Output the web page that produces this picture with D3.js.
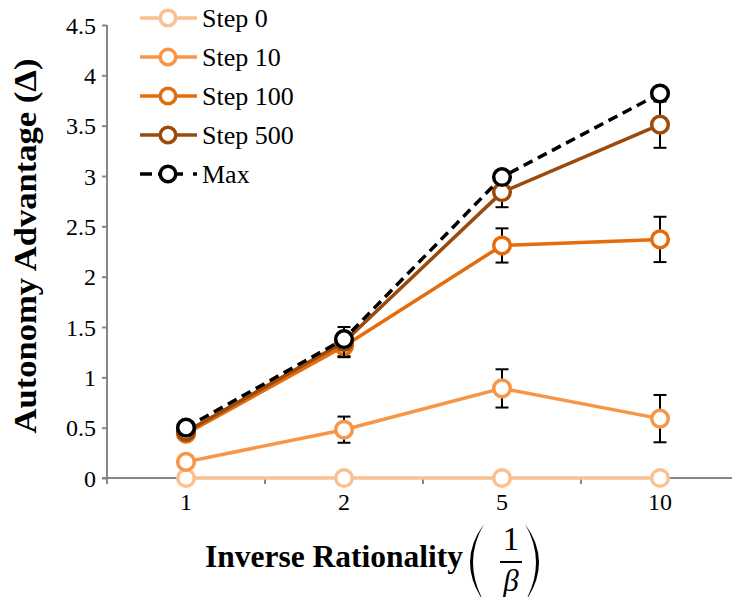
<!DOCTYPE html>
<html>
<head>
<meta charset="utf-8">
<title>Autonomy Advantage</title>
<script src="https://cdnjs.cloudflare.com/ajax/libs/d3/7.8.5/d3.min.js"></script>
<style>
  body { margin: 0; background: #fff; }
  svg { display: block; }
  svg text { font-family: "Liberation Serif", "DejaVu Serif", serif; }
</style>
</head>
<body>
<div id="chart"></div>
<script>
// values
var categories = ["1", "2", "5", "10"];
var step0 = [0, 0, 0, 0];
var step10 = [0.16, 0.48, 0.89, 0.59];
var step10Err = [0, 0.13, 0.19, 0.235];
var step100 = [0.44, 1.31, 2.31, 2.37];
var step100Err = [0, 0.10, 0.17, 0.225];
var step500 = [0.46, 1.35, 2.84, 3.51];
var step500Err = [0, 0.15, 0.15, 0.23];
var maxVals = [0.50, 1.38, 2.99, 3.82];
var yTicks = [0, 0.5, 1, 1.5, 2, 2.5, 3, 3.5, 4, 4.5];

var seriesNames = ["Step 0", "Step 10", "Step 100", "Step 500", "Max"];
var seriesVals = [step0, step10, step100, step500, maxVals];
var seriesErr = [null, step10Err, step100Err, step500Err, null];
var seriesColor = ["#FAC090", "#F79646", "#E46C0A", "#9C4A0B", "#000000"];

var w = 732, h = 597;
var svg = d3.select("#chart").append("svg")
  .attr("width", w)
  .attr("height", h);

var x = d3.scaleBand().domain(categories).range([107, 739]).padding(0);
var y = d3.scaleLinear().domain([0, 4.5]).range([478, 25]);
var cx = function(i) { return x(categories[i]) + x.bandwidth() / 2; };

// y axis
var yAxis = svg.append("g")
  .attr("transform", "translate(" + x.range()[0] + ",0)")
  .call(d3.axisLeft(y).tickValues(yTicks).tickSize(5).tickPadding(6).tickFormat(function(d) { return d; }));
yAxis.attr("font-family", null).attr("font-size", null);
yAxis.select(".domain").remove();
yAxis.selectAll("line").attr("stroke", "#868686").attr("stroke-width", 2);
yAxis.selectAll("text").attr("font-size", 24).attr("fill", "#000").attr("dy", "0.34em");
svg.append("line")
  .attr("x1", x.range()[0]).attr("x2", x.range()[0])
  .attr("y1", y(4.5)).attr("y2", y(0) + 6)
  .attr("stroke", "#868686").attr("stroke-width", 2);

// x axis
svg.append("line")
  .attr("x1", x.range()[0] - 5).attr("x2", w)
  .attr("y1", y(0)).attr("y2", y(0))
  .attr("stroke", "#868686").attr("stroke-width", 2);
svg.selectAll(".xtick")
  .data(categories.slice(1))
  .enter().append("line")
  .attr("class", "xtick")
  .attr("x1", function(d) { return x(d); }).attr("x2", function(d) { return x(d); })
  .attr("y1", y(0)).attr("y2", y(0) + 6)
  .attr("stroke", "#868686").attr("stroke-width", 2);
svg.selectAll(".xlabel")
  .data(categories)
  .enter().append("text")
  .attr("class", "xlabel")
  .attr("x", function(d, i) { return cx(i); })
  .attr("y", y(0) + 32)
  .attr("text-anchor", "middle")
  .attr("font-size", 24)
  .text(function(d) { return d; });

// series: line, error bars, markers
var line = d3.line()
  .x(function(d, i) { return cx(i); })
  .y(function(d) { return y(d); });

seriesVals.forEach(function(vals, s) {
  var g = svg.append("g");
  g.append("path")
    .datum(vals)
    .attr("d", line)
    .attr("fill", "none")
    .attr("stroke", seriesColor[s])
    .attr("stroke-width", 3.5)
    .attr("stroke-dasharray", s == 4 ? "10,6" : null);

  if (seriesErr[s]) {
    var err = seriesErr[s];
    var idx = d3.range(vals.length).filter(function(i) { return err[i] > 0; });
    var eb = g.selectAll(".err").data(idx).enter().append("g")
      .attr("stroke", "#000").attr("stroke-width", 2);
    eb.append("line")
      .attr("x1", function(i) { return cx(i); }).attr("x2", function(i) { return cx(i); })
      .attr("y1", function(i) { return y(vals[i] + err[i]); })
      .attr("y2", function(i) { return y(vals[i] - err[i]); });
    eb.append("line")
      .attr("x1", function(i) { return cx(i) - 6.5; }).attr("x2", function(i) { return cx(i) + 6.5; })
      .attr("y1", function(i) { return y(vals[i] + err[i]); })
      .attr("y2", function(i) { return y(vals[i] + err[i]); });
    eb.append("line")
      .attr("x1", function(i) { return cx(i) - 6.5; }).attr("x2", function(i) { return cx(i) + 6.5; })
      .attr("y1", function(i) { return y(vals[i] - err[i]); })
      .attr("y2", function(i) { return y(vals[i] - err[i]); });
  }

  g.selectAll("circle")
    .data(vals)
    .enter().append("circle")
    .attr("cx", function(d, i) { return cx(i); })
    .attr("cy", function(d) { return y(d); })
    .attr("r", 8.3)
    .attr("fill", "#fff")
    .attr("stroke", seriesColor[s])
    .attr("stroke-width", 3.5);
});

// legend
var legend = svg.append("g");
seriesNames.forEach(function(name, s) {
  var ly = 18 + s * 39;
  var lg = legend.append("g").attr("transform", "translate(0," + ly + ")");
  if (s == 4) {
    lg.append("line").attr("x1", 140).attr("x2", 152).attr("y1", 0).attr("y2", 0)
      .attr("stroke", "#000").attr("stroke-width", 3.5);
    lg.append("line").attr("x1", 158).attr("x2", 183).attr("y1", 0).attr("y2", 0)
      .attr("stroke", "#000").attr("stroke-width", 3.5);
    lg.append("line").attr("x1", 193).attr("x2", 197).attr("y1", 0).attr("y2", 0)
      .attr("stroke", "#000").attr("stroke-width", 3.5);
  } else {
    lg.append("line").attr("x1", 140).attr("x2", 197).attr("y1", 0).attr("y2", 0)
      .attr("stroke", seriesColor[s]).attr("stroke-width", 3.5);
  }
  lg.append("circle").attr("cx", 168).attr("cy", 0).attr("r", 7.8)
    .attr("fill", "#fff").attr("stroke", seriesColor[s]).attr("stroke-width", 3.5);
  lg.append("text").attr("x", 202).attr("y", 8.5)
    .attr("font-size", 26)
    .text(name);
});

// axis titles
svg.append("text")
  .attr("transform", "translate(36,246) rotate(-90)")
  .attr("text-anchor", "middle")
  .attr("font-size", 31)
  .attr("font-weight", "bold")
  .attr("textLength", 375)
  .attr("lengthAdjust", "spacingAndGlyphs")
  .text("Autonomy Advantage (\u0394)");

svg.append("text")
  .attr("x", 205).attr("y", 567)
  .attr("font-size", 31)
  .attr("font-weight", "bold")
  .attr("textLength", 258)
  .attr("lengthAdjust", "spacingAndGlyphs")
  .text("Inverse Rationality");

// the (1/beta) fraction
var fx = 511, fy = 562;
svg.append("text").attr("x", fx).attr("y", 550).attr("text-anchor", "middle")
  .attr("font-size", 33).text("1");
svg.append("line").attr("x1", fx - 11).attr("x2", fx + 11).attr("y1", fy).attr("y2", fy)
  .attr("stroke", "#000").attr("stroke-width", 2);
svg.append("text").attr("x", fx).attr("y", 591).attr("text-anchor", "middle")
  .attr("font-size", 31).attr("font-style", "italic").text("\u03B2");

function paren(xEnd, xOut, xIn) {
  var p = d3.path();
  p.moveTo(xEnd, 524);
  p.quadraticCurveTo(xOut, fy, xEnd, 602);
  p.quadraticCurveTo(xIn, fy, xEnd, 524);
  p.closePath();
  return p.toString();
}
svg.append("path").attr("d", paren(484, 456, 462)).attr("fill", "#000");
svg.append("path").attr("d", paren(525, 553, 547)).attr("fill", "#000");
</script>
</body>
</html>
